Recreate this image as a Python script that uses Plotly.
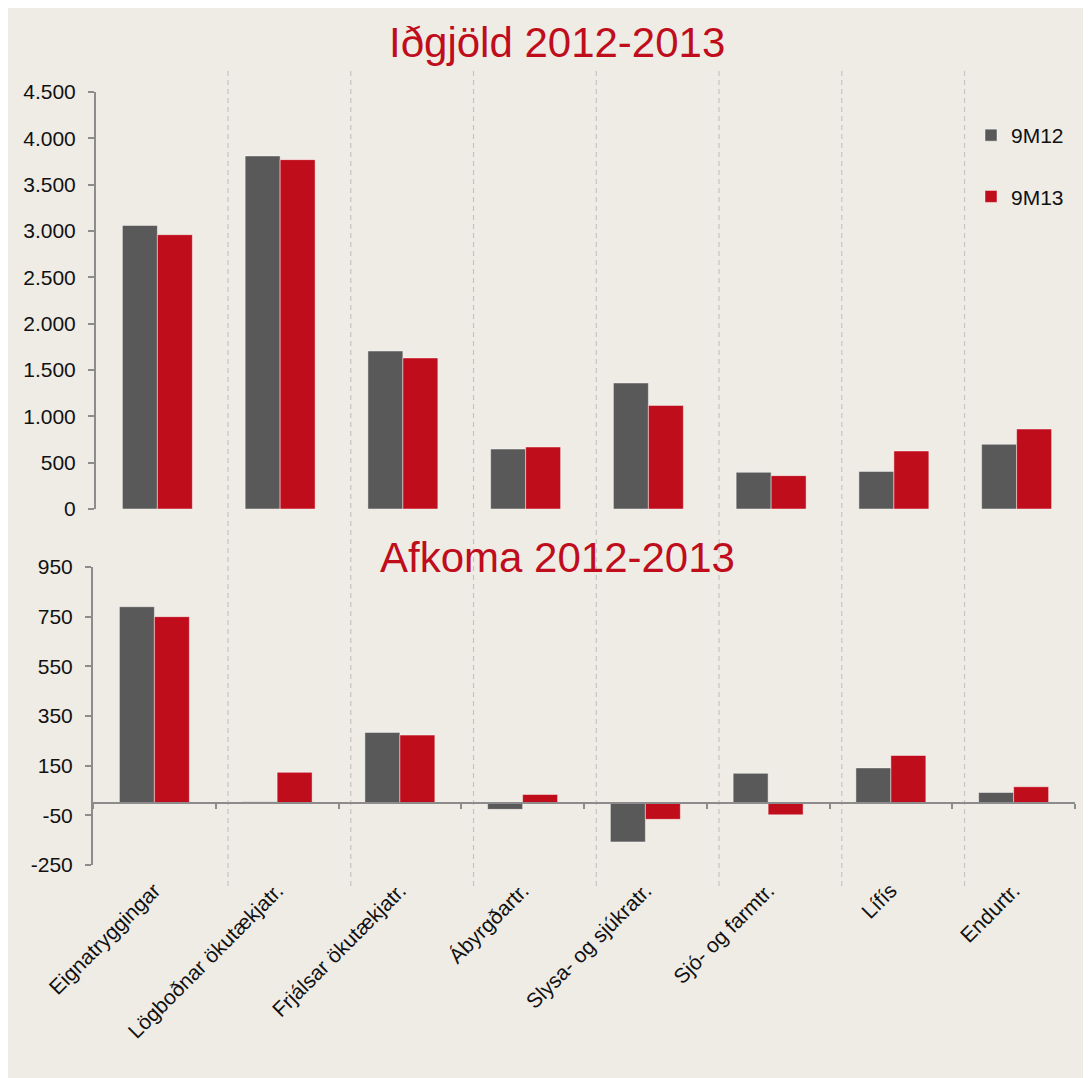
import plotly.graph_objects as go

# ---------------- data ----------------
categories = ["Eignatryggingar", "Lögboðnar ökutækjatr.", "Frjálsar ökutækjatr.",
              "Ábyrgðartr.", "Slysa- og sjúkratr.", "Sjó- og farmtr.", "Lífís", "Endurtr."]
series_names = ["9M12", "9M13"]

igjold_9m12 = [3060, 3810, 1705, 647, 1360, 396, 406, 698]
igjold_9m13 = [2960, 3770, 1630, 669, 1118, 360, 626, 863]

afkoma_9m12 = [790, 5, 284, -26, -157, 119, 141, 42]
afkoma_9m13 = [750, 123, 273, 34, -66, -48, 191, 65]

top_tickvals = [0, 500, 1000, 1500, 2000, 2500, 3000, 3500, 4000, 4500]
top_ticktext = ["0", "500", "1.000", "1.500", "2.000", "2.500", "3.000", "3.500", "4.000", "4.500"]
bot_tickvals = [-250, -50, 150, 350, 550, 750, 950]
bot_ticktext = ["-250", "-50", "150", "350", "550", "750", "950"]

title_top = "Iðgjöld 2012-2013"
title_bot = "Afkoma 2012-2013"

# ---------------- style ----------------
PAGE_W, PAGE_H = 1091, 1078
OFF = 8                      # browser body margin
W, H = PAGE_W - OFF, PAGE_H - OFF
GRAY = "#595959"
RED = "#C00D1C"
BEIGE = "#EFECE6"
AXIS = "#8C8C8C"
TXT = "#111111"
FONT = "Arial, Liberation Sans, sans-serif"
FS = 21


def px_x(x):
    return (x - OFF) / W


def px_y(y):
    return 1 - (y - OFF) / H


top_range = [0, 4500]
bot_range = [-250, 950]
bot_dom = [px_y(865), px_y(567)]
zero_pos = bot_dom[0] + (0 - bot_range[0]) / (bot_range[1] - bot_range[0]) * (bot_dom[1] - bot_dom[0])

fig = go.Figure()
colors = [GRAY, RED]
for name, vals, col in zip(series_names, [igjold_9m12, igjold_9m13], colors):
    fig.add_trace(go.Bar(x=categories, y=vals, name=name, marker_color=col,
                         marker_line=dict(color="rgba(255,255,255,0.45)", width=1),
                         xaxis="x", yaxis="y", legendgroup=name))
for name, vals, col in zip(series_names, [afkoma_9m12, afkoma_9m13], colors):
    fig.add_trace(go.Bar(x=categories, y=vals, name=name, marker_color=col,
                         marker_line=dict(color="rgba(255,255,255,0.45)", width=1),
                         xaxis="x2", yaxis="y2", showlegend=False, legendgroup=name))

shapes = []
SEP_OFFSET = 0.1
for i in range(len(categories) - 1):
    xs = i + 0.5 + SEP_OFFSET
    shapes.append(dict(type="line", xref="x2", yref="paper", x0=xs, x1=xs,
                       y0=px_y(886), y1=px_y(70),
                       line=dict(color="#C4C4C4", width=1.2, dash="5px,4px"), layer="below"))

fig.update_layout(
    width=W, height=H,
    margin=dict(l=0, r=0, t=0, b=0, pad=0, autoexpand=False),
    paper_bgcolor=BEIGE,
    plot_bgcolor="rgba(0,0,0,0)",
    font=dict(family=FONT, size=FS, color=TXT),
    barmode="group",
    bargap=0.43,
    bargroupgap=0,
    showlegend=True,
    legend=dict(x=px_x(971), y=px_y(115), xanchor="left", yanchor="top",
                bgcolor="rgba(0,0,0,0)", font=dict(size=FS, color=TXT),
                tracegroupgap=31, itemwidth=30),
    xaxis=dict(domain=[px_x(96), px_x(1078)], anchor="y", visible=False, automargin=False,
               range=[-0.5, len(categories) - 0.5], type="category"),
    yaxis=dict(domain=[px_y(509), px_y(92)], anchor="x", range=top_range, automargin=False,
               showline=True, linecolor=AXIS, linewidth=2, ticks="outside",
               ticklen=6, tickcolor=AXIS, tickwidth=1.5, showgrid=False, zeroline=False,
               tickvals=top_tickvals, ticktext=top_ticktext, ticklabelstandoff=8),
    xaxis2=dict(domain=[px_x(93), px_x(1075)], anchor="free", position=zero_pos,
                range=[-0.5, len(categories) - 0.5], type="category", automargin=False,
                showline=True, linecolor=AXIS, linewidth=2, ticks="outside",
                tickson="boundaries", ticklen=5, tickcolor=AXIS, tickwidth=1.5,
                showgrid=False, tickangle=-45, ticklabelstandoff=66),
    yaxis2=dict(domain=bot_dom, anchor="x2", range=bot_range, automargin=False,
                showline=True, linecolor=AXIS, linewidth=2, ticks="outside",
                ticklen=6, tickcolor=AXIS, tickwidth=1.5, showgrid=False, zeroline=False,
                tickvals=bot_tickvals, ticktext=bot_ticktext, ticklabelstandoff=8),
    shapes=shapes,
    annotations=[
        dict(text=title_top, xref="paper", yref="paper", x=px_x(557), y=px_y(43),
             xanchor="center", yanchor="middle", showarrow=False,
             font=dict(size=42, color=RED, family=FONT)),
        dict(text=title_bot, xref="paper", yref="paper", x=px_x(557), y=px_y(557),
             xanchor="center", yanchor="middle", showarrow=False,
             font=dict(size=42, color=RED, family=FONT)),
    ],
)

fig.write_html("out.html")
